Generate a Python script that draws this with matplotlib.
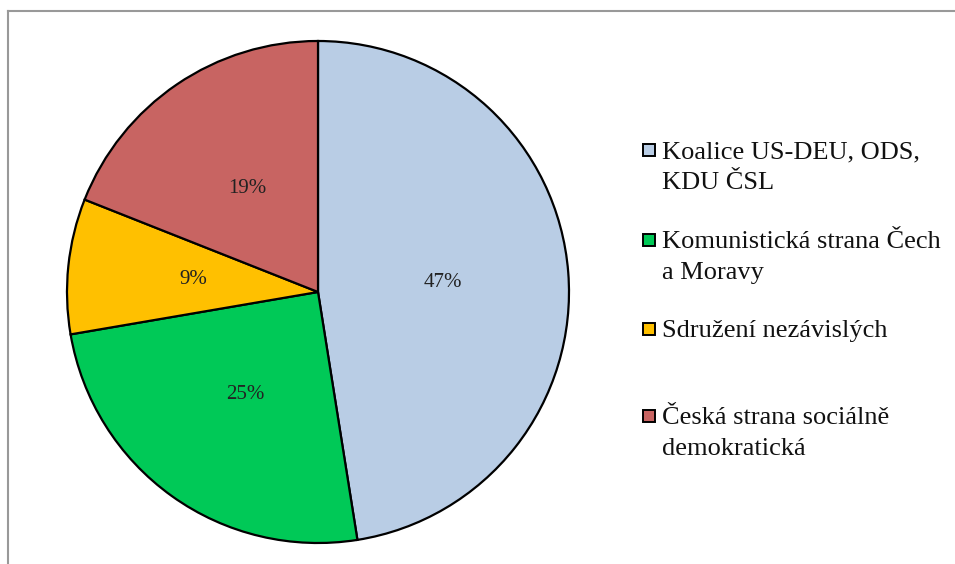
import matplotlib
matplotlib.use("Agg")
import matplotlib.pyplot as plt
from matplotlib.lines import Line2D
from matplotlib.patches import Rectangle

# Data
labels = [
    "Koalice US-DEU, ODS,\nKDU ČSL",
    "Komunistická strana Čech\na Moravy",
    "Sdružení nezávislých",
    "Česká strana sociálně\ndemokratická",
]
shares = [47.49, 24.81, 8.7, 19.0]
colors = ["#B9CDE5", "#00C957", "#FFC000", "#C86462"]

W, H = 955, 564
fig = plt.figure(figsize=(W / 100, H / 100), dpi=100)
serif = "Liberation Serif"

# Pie axes: center ~(318, 292) px, radius ~251 px
cx, cy, r = 318, 292, 251
ax = fig.add_axes([(cx - r) / W, (H - cy - r) / H, 2 * r / W, 2 * r / H])
wedges, texts, autotexts = ax.pie(
    shares,
    colors=colors,
    startangle=90,
    counterclock=False,
    autopct="%.0f%%",
    pctdistance=0.5,
    wedgeprops=dict(edgecolor="black", linewidth=1.6),
    textprops=dict(family=serif, fontsize=15, color="#222222"),
)
for w in wedges:
    w.set_clip_on(False)
ax.set_xlim(-1, 1)
ax.set_ylim(-1, 1)
ax.set_aspect("equal")

# Legend drawn by hand (handle aligned with the first line)
sq = 12
x_sq = 643
x_txt = 662
first_rows = [150, 240, 329, 416]
dy = 31
for lab, col, yc in zip(labels, colors, first_rows):
    fig.add_artist(Rectangle((x_sq / W, (H - yc - sq / 2) / H), sq / W, sq / H,
                             transform=fig.transFigure, facecolor=col,
                             edgecolor="black", linewidth=1.4))
    for i, line in enumerate(lab.split("\n")):
        fig.text(x_txt / W, (H - (yc + 8 + i * dy)) / H, line, family=serif,
                 fontsize=19, va="baseline", ha="left", color="#111111")

# Border lines (top and left)
fig.add_artist(Line2D([8 / W, 1], [(H - 11) / H, (H - 11) / H],
                      transform=fig.transFigure, color="#999999", linewidth=1.5))
fig.add_artist(Line2D([8 / W, 8 / W], [0, (H - 11) / H],
                      transform=fig.transFigure, color="#999999", linewidth=1.5))

fig.savefig("out.png", dpi=100)
